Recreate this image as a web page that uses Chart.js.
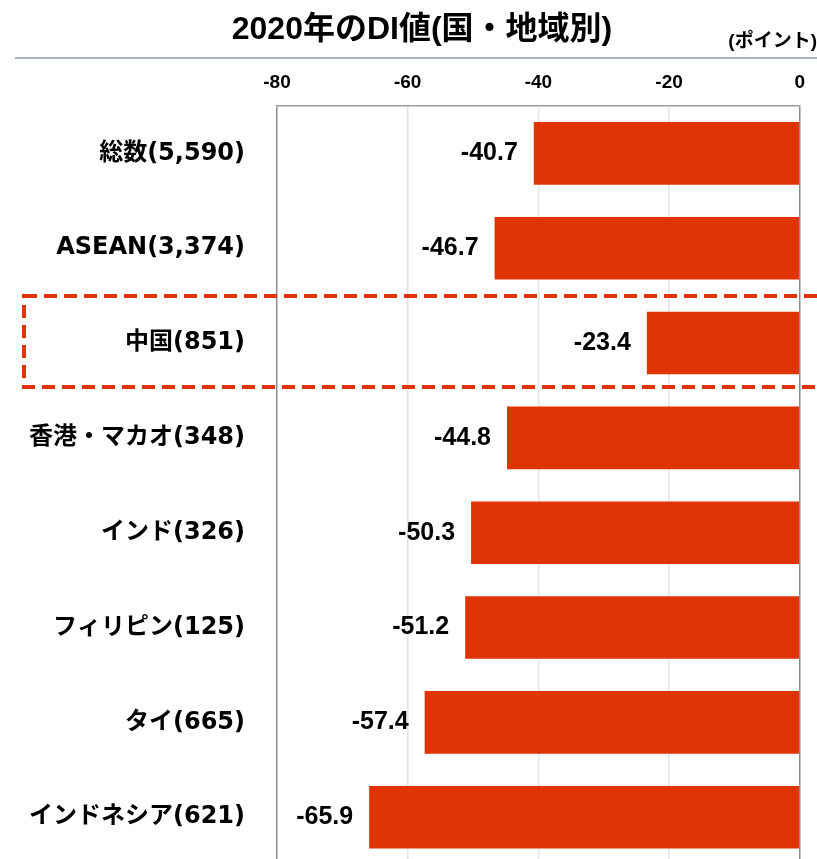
<!DOCTYPE html>
<html>
<head>
<meta charset="utf-8">
<script src="https://cdn.jsdelivr.net/npm/chart.js@4"></script>
<style>
  html, body { margin: 0; padding: 0; overflow: hidden; background: #fff; }
  canvas { display: block; }
</style>
</head>
<body>
<canvas id="diChart" width="817" height="911"></canvas>
<script>
const categories = ['総数(5,590)', 'ASEAN(3,374)', '中国(851)', '香港・マカオ(348)', 'インド(326)', 'フィリピン(125)', 'タイ(665)', 'インドネシア(621)'];
const diValues = [-40.7, -46.7, -23.4, -44.8, -50.3, -51.2, -57.4, -65.9];
const xTicks = [-80, -60, -40, -20, 0];
const highlightIndex = 2;

const FONT = '"Liberation Sans", Arial, "Noto Sans CJK JP", sans-serif';
const LABEL_FONT = '"DejaVu Sans", Verdana, "Noto Sans CJK JP", sans-serif';
const BAR_COLOR = '#E03405';

const extras = {
    id: 'extras',
    afterDraw(chart) {
        const ctx = chart.ctx;
        const y = chart.scales.y;
        ctx.save();

        // title
        ctx.fillStyle = '#000';
        ctx.font = 'bold 32px ' + FONT;
        ctx.textAlign = 'center';
        ctx.textBaseline = 'middle';
        ctx.fillText('2020年のDI値(国・地域別)', 422, 30);

        // unit
        ctx.font = 'bold 19px ' + FONT;
        ctx.textAlign = 'right';
        ctx.fillText('(ポイント)', 817, 42);

        // rule under title
        ctx.strokeStyle = '#A8B2C2';
        ctx.lineWidth = 2;
        ctx.beginPath();
        ctx.moveTo(15, 58);
        ctx.lineTo(817, 58);
        ctx.stroke();

        // value labels
        const meta = chart.getDatasetMeta(0);
        ctx.font = 'bold 25px ' + FONT;
        ctx.textAlign = 'right';
        meta.data.forEach((bar, i) => {
            ctx.fillText(diValues[i].toFixed(1), bar.x - 16, bar.y);
        });

        // dashed highlight box
        const cy = y.getPixelForValue(highlightIndex);
        ctx.strokeStyle = BAR_COLOR;
        ctx.lineWidth = 4;
        ctx.setLineDash([13, 7]);
        ctx.strokeRect(24, cy - 47, 820, 91);
        ctx.restore();
    }
};

new Chart(document.getElementById('diChart'), {
    type: 'bar',
    data: {
        labels: categories,
        datasets: [{
            data: diValues,
            backgroundColor: BAR_COLOR,
            barPercentage: 0.66,
            categoryPercentage: 1
        }]
    },
    plugins: [extras],
    options: {
        indexAxis: 'y',
        responsive: false,
        animation: false,
        layout: { padding: { left: 0, right: 16, top: 0, bottom: 16 } },
        plugins: { legend: { display: false }, tooltip: { enabled: false } },
        scales: {
            x: {
                position: 'top',
                min: -80,
                max: 0,
                afterFit: s => { s.height = 106; },
                afterBuildTicks: s => { s.ticks = xTicks.map(v => ({ value: v })); },
                ticks: {
                    color: '#000',
                    padding: 12,
                    font: { family: FONT, size: 19, weight: 'bold' }
                },
                grid: {
                    drawTicks: false,
                    lineWidth: 1.5,
                    color: c => (c.tick && (c.tick.value === -80 || c.tick.value === 0)) ? '#8C8C8C' : '#E2E4EA'
                },
                border: { color: '#9A9A9A', width: 1.5 }
            },
            y: {
                afterFit: s => { s.width = 277; },
                ticks: {
                    color: '#000',
                    padding: 32,
                    font: { family: LABEL_FONT, size: 24, weight: 'bold' }
                },
                grid: { display: false, drawTicks: false },
                border: { display: false }
            }
        }
    }
});
</script>
</body>
</html>
